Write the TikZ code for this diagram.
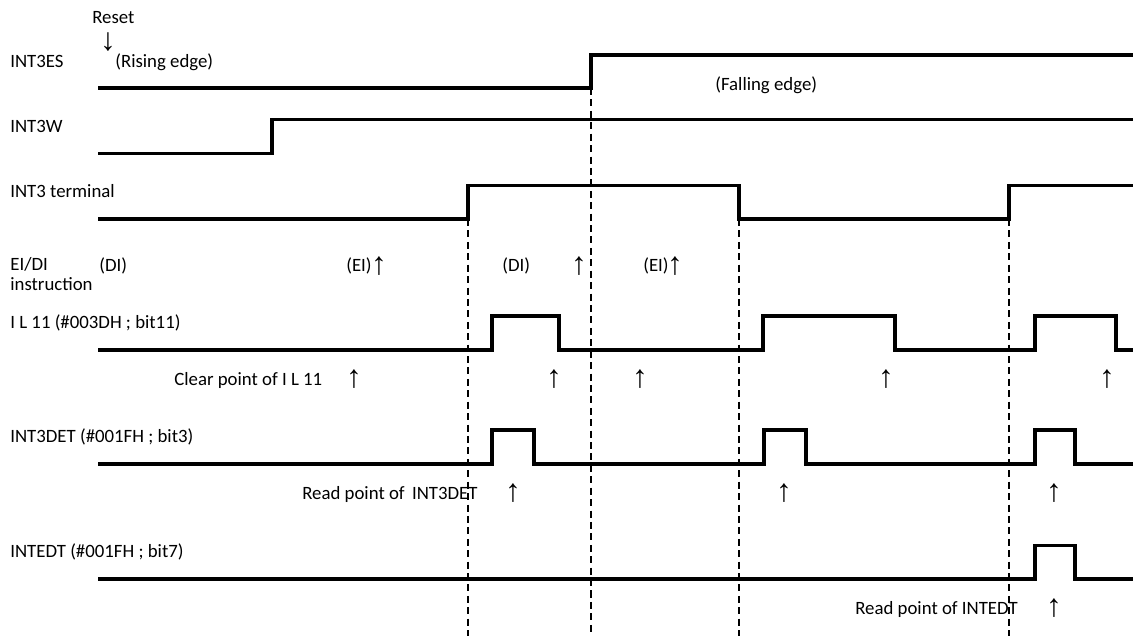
\documentclass[tikz,border=0pt]{standalone}
\usepackage{fontspec}
\setmainfont{Carlito}
\newfontfamily\arrowfont{Liberation Sans}
\begin{document}
\begin{tikzpicture}[x=0.02cm,y=-0.02cm,font=\fontsize{10.7}{11.4}\selectfont,
    sig/.style={line width=1.8pt},
    guide/.style={line width=0.8pt,dash pattern=on 4pt off 2.5pt},
    lbl/.style={anchor=base west,inner sep=0pt},
    uparr/.style={inner sep=0pt,font=\arrowfont\fontsize{18}{18}\selectfont}]
    \useasboundingbox (0,0) rectangle (1133,636);

    % dashed guides from the edges down
    \foreach \x/\top in {468/219,591/88,739/219,1009/219}
        \draw[guide] (\x,\top) -- (\x,636);

    % INT3ES
    \node[lbl] (reset) at (92,23) {Reset};
    \node[uparr] (resetarr) at (108,42) {↓};
    \node[lbl] (es) at (10,67) {INT3ES};
    \node[lbl] (rising) at (115,67) {(Rising edge)};
    \node[lbl] (falling) at (715,90) {(Falling edge)};
    \draw[sig] (98,88) -- (591,88) -- (591,55) -- (1133,55);

    % INT3W
    \node[lbl] (w) at (10,132) {INT3W};
    \draw[sig] (98,153.5) -- (272,153.5) -- (272,119.5) -- (1133,119.5);

    % INT3 terminal
    \node[lbl] (term) at (10,197) {INT3 terminal};
    \draw[sig] (98,219) -- (468,219) -- (468,185.5) -- (739,185.5) -- (739,219)
        -- (1009,219) -- (1009,185.5) -- (1133,185.5);

    % EI/DI instruction
    \node[anchor=north west,inner sep=0pt,align=left] (eidi) at (10,257) {EI/DI\\instruction};
    \node[lbl] (di1) at (99,271) {(DI)};
    \node[lbl] (ei1) at (346,271) {(EI)};
    \node[uparr] (ei1arr) at (379,266) {↑};
    \node[lbl] (di2) at (502,271) {(DI)};
    \node[uparr] (di2arr) at (579,266) {↑};
    \node[lbl] (ei2) at (643,271) {(EI)};
    \node[uparr] (ei2arr) at (675,266) {↑};

    % IL11
    \node[lbl] (il) at (10,328) {I L 11 (\#003DH ; bit11)};
    \draw[sig] (98,350) -- (492,350) -- (492,316) -- (559,316) -- (559,350)
        -- (763,350) -- (763,316) -- (895,316) -- (895,350)
        -- (1035,350) -- (1035,316) -- (1116,316) -- (1116,350) -- (1133,350);
    \node[lbl] (clear) at (174,385) {Clear point of I L 11};
    \foreach \x [count=\i] in {354,554,640,886,1107}
        \node[uparr] (clear\i) at (\x,379) {↑};

    % INT3DET
    \node[lbl] (det) at (10,442) {INT3DET (\#001FH ; bit3)};
    \draw[sig] (98,464) -- (492,464) -- (492,430) -- (534,430) -- (534,464)
        -- (764,464) -- (764,430) -- (806,430) -- (806,464)
        -- (1035,464) -- (1035,430) -- (1075,430) -- (1075,464) -- (1133,464);
    \node[lbl] (readdet) at (302,499) {Read point of\, INT3DET};
    \foreach \x [count=\i] in {513,784,1054}
        \node[uparr] (readdet\i) at (\x,493) {↑};

    % INTEDT
    \node[lbl] (edt) at (10,557) {INTEDT (\#001FH ; bit7)};
    \draw[sig] (98,579) -- (1035,579) -- (1035,545.5) -- (1075,545.5) -- (1075,579) -- (1133,579);
    \node[lbl] (readedt) at (855,614) {Read point of INTEDT};
    \node[uparr] (readedtarr) at (1054,608) {↑};
\end{tikzpicture}
\end{document}
